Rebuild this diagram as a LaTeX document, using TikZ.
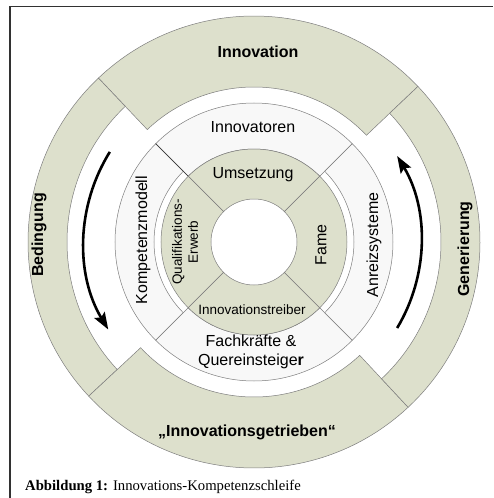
\documentclass[tikz,border=0pt]{standalone}
\usepackage{fontspec}
\setmainfont{Liberation Serif}
\setsansfont{Liberation Sans}
\usetikzlibrary{arrows.meta}
\definecolor{segGreen}{RGB}{221,224,204}
\definecolor{segLight}{RGB}{248,248,248}
\definecolor{segLine}{RGB}{125,125,125}
\definecolor{frameGray}{RGB}{50,50,50}

\begin{document}
\begin{tikzpicture}[
                x=1pt, y=1pt,
                greenseg/.style={fill=segGreen, draw=segLine, line width=0.5pt},
                lightseg/.style={fill=segLight, draw=segLine, line width=0.5pt},
                ringlbl/.style={font=\sffamily\fontsize{16}{19}\selectfont, inner sep=0pt, align=center},
                boldlbl/.style={font=\sffamily\bfseries\fontsize{16}{19}\selectfont, inner sep=0pt},
                smalllbl/.style={font=\sffamily\fontsize{13.5}{16}\selectfont, inner sep=0pt, align=center},
                cyclearrow/.style={line width=2.6pt, -{Stealth[length=17pt, width=12pt, inset=3pt]}}
            ]
            \useasboundingbox (-254,-256) rectangle (239,242);

            % Frame
            \draw[frameGray, line width=1.5pt] (-244,-256) -- (-244,235.5) -- (239,235.5);

            % Outer ring
            \draw[greenseg] (43.5:226) arc[start angle=43.5, end angle=133.5, radius=226]
                -- (133.5:155) arc[start angle=133.5, end angle=43.5, radius=155] -- cycle;
            \draw[greenseg] (133.5:226) arc[start angle=133.5, end angle=223, radius=226]
                -- (223:187) arc[start angle=223, end angle=133.5, radius=187] -- cycle;
            \draw[greenseg] (223:226) arc[start angle=223, end angle=313, radius=226]
                -- (313:155) arc[start angle=313, end angle=223, radius=155] -- cycle;
            \draw[greenseg] (313:226) arc[start angle=313, end angle=403.5, radius=226]
                -- (403.5:187) arc[start angle=403.5, end angle=313, radius=187] -- cycle;

            % Middle ring
            \draw[lightseg] (45:139) arc[start angle=45, end angle=135, radius=139]
                -- (135:93) arc[start angle=135, end angle=45, radius=93] -- cycle;
            \draw[lightseg] (135:139) arc[start angle=135, end angle=225, radius=139]
                -- (225:100) arc[start angle=225, end angle=135, radius=100] -- cycle;
            \draw[lightseg] (225:139) arc[start angle=225, end angle=315, radius=139]
                -- (315:93) arc[start angle=315, end angle=225, radius=93] -- cycle;
            \draw[lightseg] (315:139) arc[start angle=315, end angle=405, radius=139]
                -- (405:100) arc[start angle=405, end angle=315, radius=100] -- cycle;
            \draw[black!80, line width=0.6pt] (135:139) -- (135:93);

            % Inner ring
            \draw[greenseg] (45:93) arc[start angle=45, end angle=135, radius=93]
                -- (135:43) arc[start angle=135, end angle=45, radius=43] -- cycle;
            \draw[greenseg] (135:93) arc[start angle=135, end angle=225, radius=93]
                -- (225:43) arc[start angle=225, end angle=135, radius=43] -- cycle;
            \draw[greenseg] (225:93) arc[start angle=225, end angle=315, radius=93]
                -- (315:43) arc[start angle=315, end angle=225, radius=43] -- cycle;
            \draw[greenseg] (315:93) arc[start angle=315, end angle=405, radius=93]
                -- (405:43) arc[start angle=405, end angle=315, radius=43] -- cycle;

            % Labels
            \node[boldlbl] (innovation) at (4,190) {Innovation};
            \node[boldlbl] (getrieben) at (-7,-190) {„Innovationsgetrieben“};
            \node[boldlbl, rotate=90] (bedingung) at (-215,7) {Bedingung};
            \node[boldlbl, rotate=90] (generierung) at (211,-7) {Generierung};

            \node[ringlbl] (innovatoren) at (-1,115) {Innovatoren};
            \node[ringlbl] (fachkraefte) at (-3,-110) {Fachkräfte \&\\Quereinsteige\textbf{r}};
            \node[ringlbl, rotate=90] (kompetenz) at (-111,2) {Kompetenzmodell};
            \node[ringlbl, rotate=90] (anreiz) at (120,-3) {Anreizsysteme};

            \node[ringlbl] (umsetzung) at (-1,67) {Umsetzung};
            \node[smalllbl] (treiber) at (-2,-68) {Innovationstreiber};
            \node[smalllbl, rotate=90] (quali) at (-69,0) {Qualifikations-\\Erwerb};
            \node[ringlbl, rotate=90] (fame) at (67,-3) {Fame};

            % Loop arrows
            \coordinate (bedStart) at (148:170);
            \coordinate (genStart) at (-31:167);
            \draw[cyclearrow] (bedStart) arc[start angle=148, end angle=211, radius=170];
            \draw[cyclearrow] (genStart) arc[start angle=-31, end angle=31, radius=167];

            % Caption
            \node[anchor=base west, inner sep=0pt, font=\fontsize{14.7}{17}\selectfont] (caption) at (-229,-248)
                {\textbf{Abbildung 1:} Innovations-Kompetenzschleife};

            \end{tikzpicture}
\end{document}
